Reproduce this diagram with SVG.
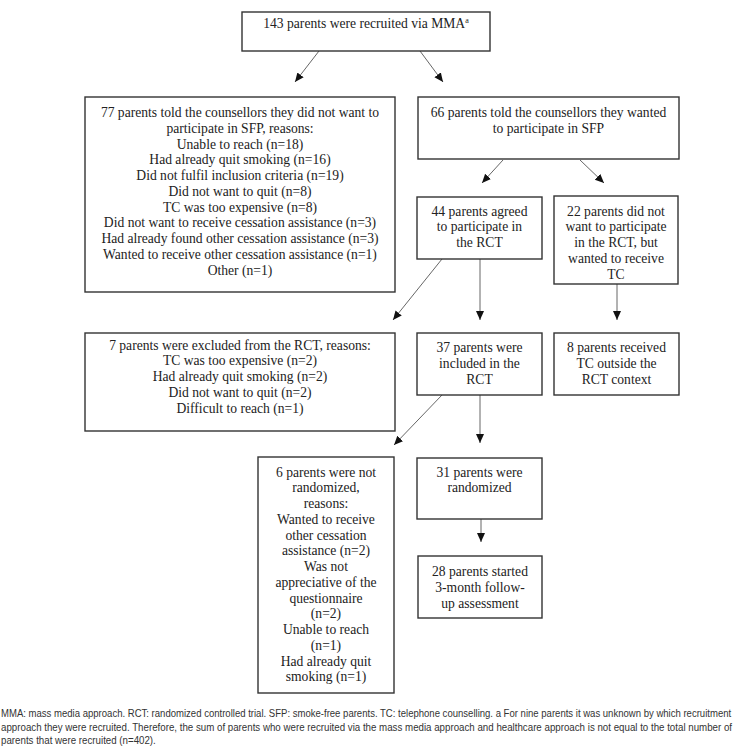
<svg xmlns="http://www.w3.org/2000/svg" width="736" height="750" viewBox="0 0 736 750">
<style>
.box{fill:#fff;stroke:#333;stroke-width:1.4}
.t{font-family:"Liberation Serif","Times New Roman",serif;font-size:13.6px;fill:#222;text-anchor:middle}
.c{stroke:#555;stroke-width:0.9;fill:none;marker-end:url(#ah)}
.fn{font-family:"Liberation Sans",Arial,sans-serif;font-size:10.5px;fill:#333}
</style>
<defs>
<marker id="ah" markerWidth="10" markerHeight="10" refX="9" refY="4" orient="auto" markerUnits="userSpaceOnUse">
<path d="M0,0 L9,4 L0,8 Z" fill="#111"/>
</marker>
</defs>
<rect width="736" height="750" fill="#fff"/>

<g id="connectors">
<path class="c" d="M319,51 L295,82"/>
<path class="c" d="M420,51 L443,82"/>
<path class="c" d="M503,160 L482,183"/>
<path class="c" d="M580,160 L604,183"/>
<path class="c" d="M442,259 L393,320"/>
<path class="c" d="M480,259 L480,320"/>
<path class="c" d="M617,284 L617,320"/>
<path class="c" d="M442,395 L394,445"/>
<path class="c" d="M480,395 L480,443"/>
<path class="c" d="M481,519 L481,542"/>
</g>

<g id="n143">
<rect class="box" x="242" y="12" width="248" height="39"/>
<text class="t" x="366" y="27.5">143 parents were recruited via MMA<tspan font-size="8" dy="-5">a</tspan></text>
</g>

<g id="n77">
<rect class="box" x="85" y="97" width="310" height="195"/>
<text class="t" x="240" y="117">77 parents told the counsellors they did not want to</text>
<text class="t" x="240" y="132.75">participate in SFP, reasons:</text>
<text class="t" x="240" y="148.5">Unable to reach (n=18)</text>
<text class="t" x="240" y="164.25">Had already quit smoking (n=16)</text>
<text class="t" x="240" y="180">Did not fulfil inclusion criteria (n=19)</text>
<text class="t" x="240" y="195.75">Did not want to quit (n=8)</text>
<text class="t" x="240" y="211.5">TC was too expensive (n=8)</text>
<text class="t" x="240" y="227.25">Did not want to receive cessation assistance (n=3)</text>
<text class="t" x="240" y="243">Had already found other cessation assistance (n=3)</text>
<text class="t" x="240" y="258.75">Wanted to receive other cessation assistance (n=1)</text>
<text class="t" x="240" y="274.5">Other (n=1)</text>
</g>

<g id="n66">
<rect class="box" x="418" y="97" width="261" height="62"/>
<text class="t" x="548.5" y="117">66 parents told the counsellors they wanted</text>
<text class="t" x="548.5" y="132.75">to participate in SFP</text>
</g>

<g id="n44">
<rect class="box" x="417" y="197" width="125" height="62"/>
<text class="t" x="479.5" y="215.5">44 parents agreed</text>
<text class="t" x="479.5" y="231.25">to participate in</text>
<text class="t" x="479.5" y="247">the RCT</text>
</g>

<g id="n22">
<rect class="box" x="554" y="196" width="124" height="88"/>
<text class="t" x="616" y="215.5">22 parents did not</text>
<text class="t" x="616" y="231.25">want to participate</text>
<text class="t" x="616" y="247">in the RCT, but</text>
<text class="t" x="616" y="262.75">wanted to receive</text>
<text class="t" x="616" y="278.5">TC</text>
</g>

<g id="n7">
<rect class="box" x="85" y="333" width="310" height="98"/>
<text class="t" x="240" y="349.5">7 parents were excluded from the RCT, reasons:</text>
<text class="t" x="240" y="365.25">TC was too expensive (n=2)</text>
<text class="t" x="240" y="381">Had already quit smoking (n=2)</text>
<text class="t" x="240" y="396.75">Did not want to quit (n=2)</text>
<text class="t" x="240" y="412.5">Difficult to reach (n=1)</text>
</g>

<g id="n37">
<rect class="box" x="417" y="333" width="125" height="62"/>
<text class="t" x="479.5" y="352">37 parents were</text>
<text class="t" x="479.5" y="367.75">included in the</text>
<text class="t" x="479.5" y="383.5">RCT</text>
</g>

<g id="n8">
<rect class="box" x="554" y="333" width="125" height="62"/>
<text class="t" x="616.5" y="352">8 parents received</text>
<text class="t" x="616.5" y="367.75">TC outside the</text>
<text class="t" x="616.5" y="383.5">RCT context</text>
</g>

<g id="n6">
<rect class="box" x="258" y="457" width="136" height="236"/>
<text class="t" x="326" y="476.5">6 parents were not</text>
<text class="t" x="326" y="492.25">randomized,</text>
<text class="t" x="326" y="508">reasons:</text>
<text class="t" x="326" y="523.75">Wanted to receive</text>
<text class="t" x="326" y="539.5">other cessation</text>
<text class="t" x="326" y="555.25">assistance (n=2)</text>
<text class="t" x="326" y="571">Was not</text>
<text class="t" x="326" y="586.75">appreciative of the</text>
<text class="t" x="326" y="602.5">questionnaire</text>
<text class="t" x="326" y="618.25">(n=2)</text>
<text class="t" x="326" y="634">Unable to reach</text>
<text class="t" x="326" y="649.75">(n=1)</text>
<text class="t" x="326" y="665.5">Had already quit</text>
<text class="t" x="326" y="681.25">smoking (n=1)</text>
</g>

<g id="n31">
<rect class="box" x="417" y="458" width="125" height="61"/>
<text class="t" x="479.5" y="476.5">31 parents were</text>
<text class="t" x="479.5" y="492.25">randomized</text>
</g>

<g id="n28">
<rect class="box" x="418" y="556" width="124" height="62"/>
<text class="t" x="480" y="576">28 parents started</text>
<text class="t" x="480" y="591.75">3-month follow-</text>
<text class="t" x="480" y="607.5">up assessment</text>
</g>

<g id="footnote" transform="scale(0.86,1)">
<text class="fn" x="1.2" y="717.5" textLength="849" lengthAdjust="spacingAndGlyphs">MMA: mass media approach. RCT: randomized controlled trial. SFP: smoke-free parents. TC: telephone counselling. a For nine parents it was unknown by which recruitment</text>
<text class="fn" x="1.2" y="731" textLength="850" lengthAdjust="spacingAndGlyphs">approach they were recruited. Therefore, the sum of parents who were recruited via the mass media approach and healthcare approach is not equal to the total number of</text>
<text class="fn" x="1.2" y="744.5" textLength="180" lengthAdjust="spacingAndGlyphs">parents that were recruited (n=402).</text>
</g>
</svg>
